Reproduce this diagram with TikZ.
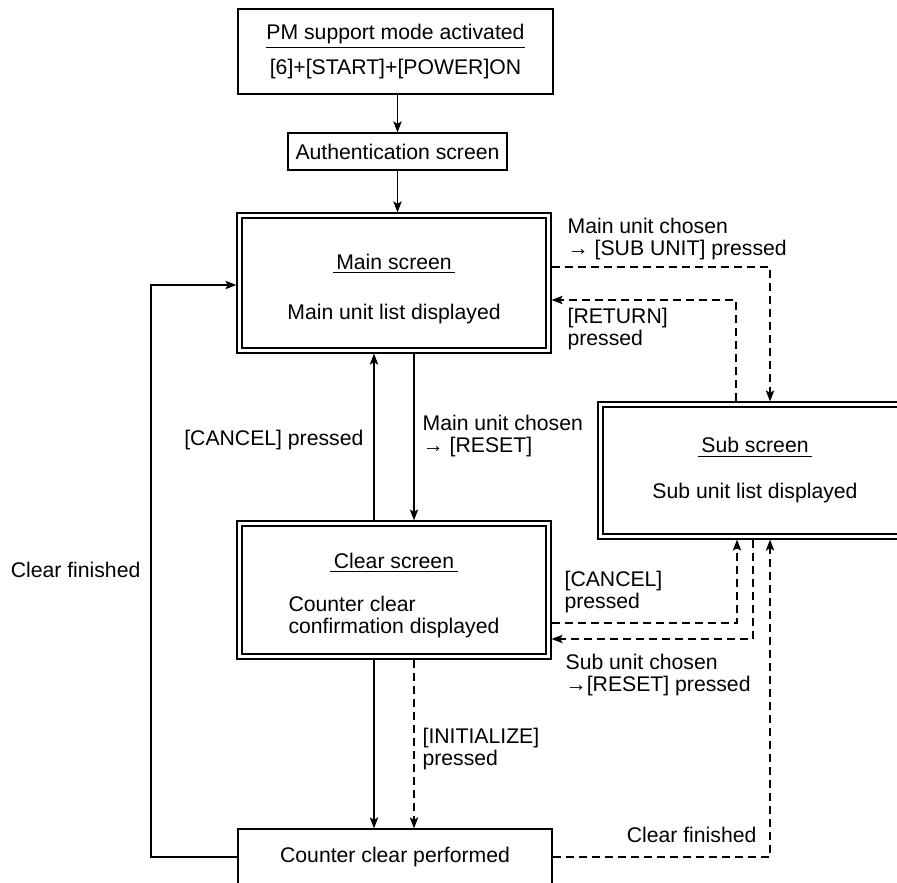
\documentclass[tikz,border=0pt]{standalone}
\usepackage{fontspec}
\setmainfont{Liberation Sans}
\usepackage{tikz}
\usetikzlibrary{positioning,arrows.meta,calc}

\begin{document}
\begin{tikzpicture}[x=0.5pt, y=-0.5pt, line width=0.6pt,
  >={Stealth[length=5.5pt, width=4.2pt, inset=1.2pt]},
  font=\fontsize{10.6}{11.2}\selectfont,
  box/.style={draw, inner sep=0pt, align=center, outer sep=0.3pt},
  dbl/.style={box, double, double distance=1.9pt, outer sep=1.55pt,
              minimum width=154.5pt},
  dsh/.style={dash pattern=on 4pt off 2.5pt},
  lbl/.style={inner sep=0pt, align=left}]
  \useasboundingbox (0,0) rectangle (897,882);
  \clip (0,0) rectangle (897,882);
  % boxes
  \node[box, minimum width=157.5pt, minimum height=42.5pt] (top) at (395.5,51.5)
    {\underline{PM support mode activated}\\[4.3pt]{}[6]+[START]+[POWER]ON};
  \node[box, minimum width=109.5pt, minimum height=18.5pt] (auth) at (397.5,151.5)
    {Authentication screen};
  \node[dbl, minimum height=67.5pt] (main) at (394,283)
    {\rule{0pt}{14pt}\underline{\,Main screen\,}\\[13.8pt]Main unit list displayed};
  \node[dbl, minimum height=66pt] (sub) at (755,470.5)
    {\underline{\,Sub screen\,}\\[11.8pt]Sub unit list displayed};
  \node[dbl, minimum height=66.5pt] (clear) at (394,590)
    {\rule{0pt}{14.5pt}\underline{\,Clear screen\,}\\[10.3pt]\begin{tabular}{@{}l@{}}Counter clear\\confirmation displayed\end{tabular}};
  \node[box, minimum width=157pt, minimum height=28pt] (bot) at (395,857)
    {Counter clear performed};
  \coordinate (lft) at (151,0);
  % solid arrows
  \draw[->] (top.south -| auth.north) -- (auth.north);
  \draw[->] (auth.south) -- (auth.south |- main.north);
  \draw[->] (bot.west) -- (bot.west -| lft) |- ($(main.west)+(0,2)$);
  \draw[->] ($(main.south)+(20,0)$) -- ($(clear.north)+(20,0)$);
  \draw[->] ($(clear.north)+(-20,0)$) -- ($(main.south)+(-20,0)$);
  \draw[->] ($(clear.south)+(-20,0)$) -- ($(bot.north)+(-21,0)$);
  % dashed arrows
  \draw[->, dsh] ($(clear.south)+(20,0)$) -- ($(bot.north)+(19,0)$);
  \draw[->, dsh] ($(main.east)+(0,-16)$) -| ($(sub.north)+(15,0)$);
  \draw[->, dsh] ($(sub.north)+(-19,0)$) |- ($(main.east)+(0,17)$);
  \draw[->, dsh] ($(clear.east)+(0,33)$) -| ($(sub.south)+(-18,0)$);
  \draw[->, dsh] ($(sub.south)+(-2,0)$) |- ($(clear.east)+(0,49)$);
  \draw[->, dsh] (bot.east) -| ($(sub.south)+(15,0)$);
  % labels
  \node[lbl, anchor=west] (l-sub) at (567,239) {Main unit chosen\\→ [SUB UNIT] pressed};
  \node[lbl, anchor=west] (l-ret) at (567,329) {[RETURN]\\pressed};
  \node[lbl, anchor=east] (l-can1) at (364,440) {[CANCEL] pressed};
  \node[lbl, anchor=west] (l-rst1) at (422,436) {Main unit chosen\\→ [RESET]};
  \node[lbl, anchor=east] (l-fin1) at (141,570) {Clear finished};
  \node[lbl, anchor=west] (l-can2) at (564,592) {[CANCEL]\\pressed};
  \node[lbl, anchor=west] (l-rst2) at (565,675) {Sub unit chosen\\→[RESET] pressed};
  \node[lbl, anchor=west] (l-init) at (422,749) {[INITIALIZE]\\pressed};
  \node[lbl, anchor=east] (l-fin2) at (757,835) {Clear finished};
\end{tikzpicture}
\end{document}
